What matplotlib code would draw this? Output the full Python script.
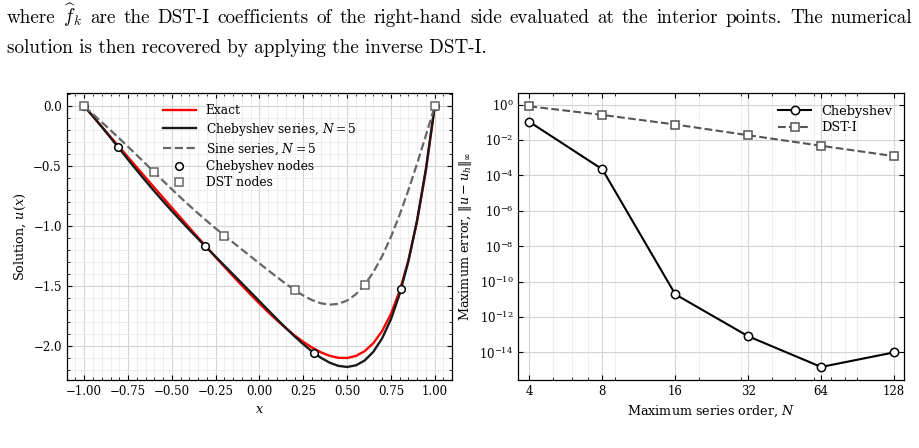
import numpy as np
import matplotlib
matplotlib.use("Agg")
import matplotlib.pyplot as plt
from matplotlib.ticker import MultipleLocator, NullFormatter, NullLocator, FixedLocator, FixedFormatter

# left panel: solution u(x) sampled every 0.05 on [-1, 1]
x_grid = np.round(np.arange(-1.0, 1.0001, 0.05), 2)
u_exact = [0.0, -0.0850, -0.1700, -0.2549, -0.3397, -0.4244, -0.5090, -0.5935,
           -0.6777, -0.7617, -0.8455, -0.9289, -1.0119, -1.0944, -1.1763, -1.2574,
           -1.3376, -1.4166, -1.4943, -1.5703, -1.6443, -1.7157, -1.7841, -1.8487,
           -1.9088, -1.9633, -2.0109, -2.0503, -2.0794, -2.0962, -2.0978, -2.0808,
           -2.0412, -1.9739, -1.8729, -1.7306, -1.5380, -1.2838, -0.9544, -0.5333, 0.0]
u_cheb = [0.0, -0.0833, -0.1711, -0.2615, -0.3529, -0.4440, -0.5339, -0.6221,
          -0.7080, -0.7916, -0.8729, -0.9520, -1.0293, -1.1052, -1.1799, -1.2540,
          -1.3279, -1.4017, -1.4759, -1.5504, -1.6251, -1.6998, -1.7740, -1.8467,
          -1.9168, -1.9830, -2.0432, -2.0953, -2.1365, -2.1634, -2.1725, -2.1593,
          -2.1189, -2.0457, -1.9336, -1.7755, -1.5639, -1.2902, -0.9452, -0.5188, 0.0]
u_sine = [0.0, -0.0659, -0.1323, -0.1994, -0.2676, -0.3369, -0.4073, -0.4784,
          -0.5498, -0.6210, -0.6914, -0.7604, -0.8277, -0.8930, -0.9562, -1.0175,
          -1.0772, -1.1358, -1.1938, -1.2516, -1.3094, -1.3670, -1.4240, -1.4792,
          -1.5311, -1.5773, -1.6152, -1.6417, -1.6533, -1.6467, -1.6188, -1.5666,
          -1.4882, -1.3824, -1.2489, -1.0887, -0.9040, -0.6981, -0.4753, -0.2407, 0.0]

cheb_nodes_x = [-1.0, -0.809, -0.309, 0.309, 0.809, 1.0]
cheb_nodes_u = [0.0, -0.336, -1.166, -2.053, -1.519, 0.0]
dst_nodes_x = [-1.0, -0.6, -0.2, 0.2, 0.6, 1.0]
dst_nodes_u = [0.0, -0.550, -1.077, -1.531, -1.488, 0.0]

# right panel: max error vs series order
orders = [4, 8, 16, 32, 64, 128]
err_cheb = [1.06e-1, 2.2e-4, 1.9e-11, 8.1e-14, 1.5e-15, 1.0e-14]
err_dst = [8.0e-1, 2.6e-1, 7.5e-2, 1.86e-2, 4.7e-3, 1.22e-3]

# surrounding document text (first line is justified)
line1 = (r"where $\widehat{f}_k$ are the DST-I coefficients of the right-hand side "
         r"evaluated at the interior points. The numerical")
line2 = "solution is then recovered by applying the inverse DST-I."

plt.rcParams.update({
    "font.family": "DejaVu Serif",
    "mathtext.fontset": "dejavuserif",
    "font.size": 8.5,
    "axes.labelsize": 9.2,
    "xtick.direction": "in",
    "ytick.direction": "in",
    "xtick.top": True,
    "ytick.right": True,
    "xtick.major.size": 3.5,
    "ytick.major.size": 3.5,
    "xtick.minor.size": 2,
    "ytick.minor.size": 2,
    "axes.linewidth": 0.9,
    "legend.frameon": False,
})

GRAY = "#666666"
W, H = 919, 448

fig = plt.figure(figsize=(W / 100, H / 100), dpi=100)


def justified_line(words, y, x0, x1, **kw):
    texts = [fig.text(0, y, w, va="baseline", **kw) for w in words]
    renderer = fig.canvas.get_renderer()
    widths = [t.get_window_extent(renderer).width for t in texts]
    gap = (x1 - x0 - sum(widths)) / (len(words) - 1)
    x = x0
    for t, w in zip(texts, widths):
        t.set_x(x / W)
        x += w + gap


doc_font = dict(fontfamily="cmr10", math_fontfamily="cm", fontsize=13.75)
justified_line(line1.split(" "), 1 - 23 / H, 7, 912, **doc_font)
fig.text(7 / W, 1 - 53 / H, line2, va="baseline", **doc_font)

ax1 = fig.add_axes([0.0726, 0.1518, 0.4195, 0.640])
ax2 = fig.add_axes([0.564, 0.1518, 0.420, 0.640])

# ---- left: solution
ax1.plot(x_grid, u_exact, color="red", lw=1.7, label="Exact", zorder=3)
ax1.plot(x_grid, u_cheb, color="#1a1a1a", lw=1.7, label=r"Chebyshev series, $N=5$", zorder=3)
ax1.plot(x_grid, u_sine, color=GRAY, lw=1.6, ls="--", label=r"Sine series, $N=5$", zorder=3)
ax1.plot(cheb_nodes_x, cheb_nodes_u, "o", ls="none", ms=5.5, mfc="white", mec="black",
         mew=1.1, label="Chebyshev nodes", zorder=4)
ax1.plot(dst_nodes_x, dst_nodes_u, "s", ls="none", ms=5.5, mfc="white", mec=GRAY,
         mew=1.1, label="DST nodes", zorder=4)

ax1.set_xlim(-1.1, 1.1)
ax1.xaxis.set_major_locator(MultipleLocator(0.25))
ax1.xaxis.set_minor_locator(MultipleLocator(0.05))
ax1.yaxis.set_major_locator(MultipleLocator(0.5))
ax1.yaxis.set_minor_locator(MultipleLocator(0.1))
ax1.set_axisbelow(True)
ax1.grid(which="major", color="#d4d4d4", lw=0.8)
ax1.grid(which="minor", color="#ebebeb", lw=0.6)
ax1.set_xlabel(r"$x$")
ax1.set_ylabel(r"Solution, $u(x)$")
ax1.legend(loc="upper center", handlelength=2.7, fontsize=8.8, labelspacing=0.28)

# ---- right: convergence
ax2.plot(orders, err_cheb, "o-", color="black", lw=1.5, ms=6, mfc="white", mew=1.1,
         label="Chebyshev", zorder=3)
ax2.plot(orders, err_dst, "s--", color="#555555", lw=1.5, ms=6, mfc="white", mew=1.1,
         label="DST-I", zorder=3)
ax2.set_xscale("log")
ax2.set_yscale("log")
ax2.set_xlim(3.6, 141)
ax2.xaxis.set_major_locator(FixedLocator(orders))
ax2.xaxis.set_major_formatter(FixedFormatter([str(n) for n in orders]))
ax2.xaxis.set_minor_formatter(NullFormatter())
ax2.yaxis.set_minor_locator(NullLocator())
ax2.set_axisbelow(True)
ax2.grid(which="major", color="#d4d4d4", lw=0.8)
ax2.grid(which="minor", axis="x", color="#ebebeb", lw=0.6)
ax2.set_xlabel(r"Maximum series order, $N$")
ax2.set_ylabel(r"Maximum error, $\|u-u_h\|_\infty$")
ax2.legend(loc="upper right", handlelength=2.6, fontsize=9.3, labelspacing=0.25)

fig.savefig("out.png", dpi=100)
